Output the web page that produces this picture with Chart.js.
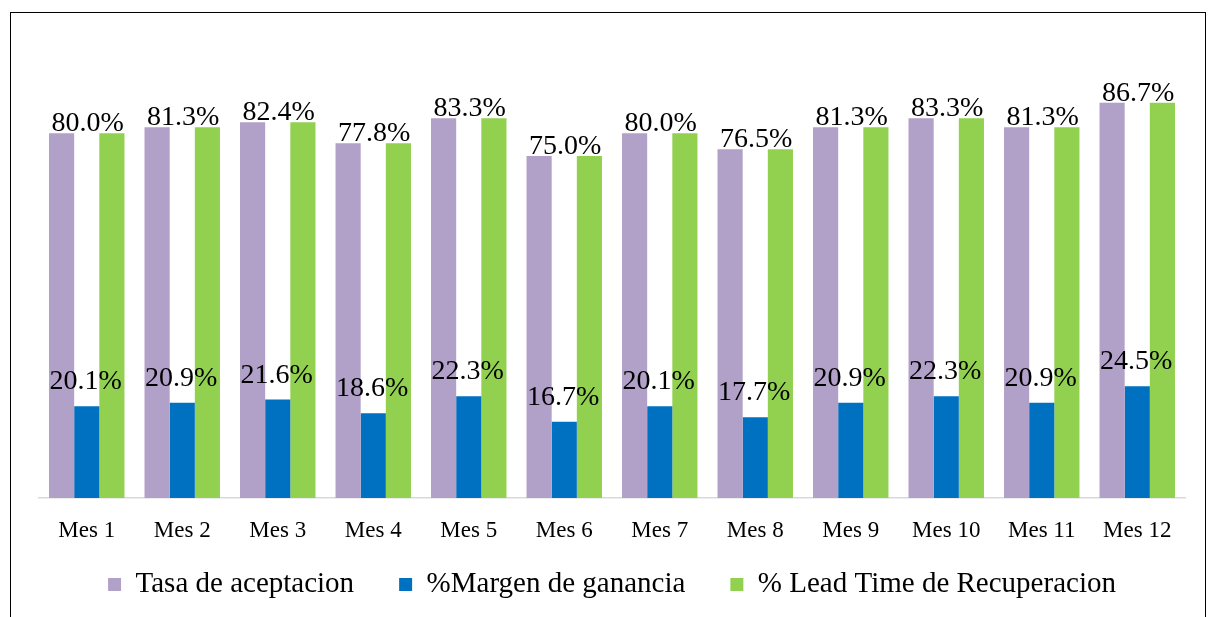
<!DOCTYPE html>
<html>
<head>
<meta charset="utf-8">
<script src="https://cdn.jsdelivr.net/npm/chart.js@4"></script>
<style>
  html, body { margin: 0; padding: 0; background: #fff; }
  #wrap { position: relative; width: 1218px; height: 617px; overflow: hidden; }
  #frame { position: absolute; left: 10px; top: 12px; width: 1196px; height: 640px; border: 1.5px solid #000; box-sizing: border-box; pointer-events: none; }
  canvas { position: absolute; left: 0; top: 0; }
</style>
</head>
<body>
<div id="wrap">
  <canvas id="chart" width="1218" height="617"></canvas>
  <div id="frame"></div>
</div>
<script>
const months = ['Mes 1','Mes 2','Mes 3','Mes 4','Mes 5','Mes 6','Mes 7','Mes 8','Mes 9','Mes 10','Mes 11','Mes 12'];
const tasaAceptacion = [80.0, 81.3, 82.4, 77.8, 83.3, 75.0, 80.0, 76.5, 81.3, 83.3, 81.3, 86.7];
const margenGanancia = [20.1, 20.9, 21.6, 18.6, 22.3, 16.7, 20.1, 17.7, 20.9, 22.3, 20.9, 24.5];
const leadTime = [80.0, 81.3, 82.4, 77.8, 83.3, 75.0, 80.0, 76.5, 81.3, 83.3, 81.3, 86.7];

const serif = "'Liberation Serif', 'Times New Roman', serif";

// value labels: top one centred on the group, bottom one over the blue bar
const valueLabels = {
  id: 'valueLabels',
  afterLayout(chart) {
    // x band is squeezed in afterFit; let its labels draw past it
    const x = chart.scales.x;
    x.bottom = x.top + 60;
  },
  afterDatasetsDraw(chart) {
    const ctx = chart.ctx;
    const purple = chart.getDatasetMeta(0).data;
    const blue = chart.getDatasetMeta(1).data;
    ctx.save();
    ctx.font = '28px ' + serif;
    ctx.fillStyle = '#000';
    ctx.textAlign = 'center';
    ctx.textBaseline = 'alphabetic';
    months.forEach((m, i) => {
      ctx.fillText(tasaAceptacion[i].toFixed(1) + '%', blue[i].x + 1, purple[i].y - 2);
      ctx.fillText(margenGanancia[i].toFixed(1) + '%', blue[i].x - 1, blue[i].y - 17);
    });
    ctx.restore();
  }
};

new Chart(document.getElementById('chart'), {
  type: 'bar',
  data: {
    labels: months,
    datasets: [
      { label: 'Tasa de aceptacion', data: tasaAceptacion, backgroundColor: '#b1a0c7' },
      { label: '%Margen de ganancia', data: margenGanancia, backgroundColor: '#0070c0' },
      { label: '% Lead Time de Recuperacion', data: leadTime, backgroundColor: '#92d050' }
    ]
  },
  options: {
    responsive: false,
    animation: false,
    devicePixelRatio: 1,
    datasets: { bar: { barPercentage: 1, categoryPercentage: 0.79 } },
    layout: { padding: { left: 39, right: 33, top: 42, bottom: 8 } },
    plugins: {
      tooltip: { enabled: false },
      legend: {
        position: 'bottom',
        labels: {
          color: '#000',
          font: { family: serif, size: 29 },
          boxWidth: 13,
          boxHeight: 13,
          padding: 45,
          useBorderRadius: false
        }
      }
    },
    scales: {
      x: {
        grid: { display: false, drawTicks: false },
        border: { color: '#d9d9d9', width: 1.5 },
        ticks: { color: '#000', font: { family: serif, size: 23 }, padding: 19 },
        // keep the axis band thin so the legend sits right under the labels
        afterFit: scale => { scale.height = 27; }
      },
      y: { display: false, min: 0, max: 100 }
    }
  },
  plugins: [valueLabels]
});
</script>
</body>
</html>
